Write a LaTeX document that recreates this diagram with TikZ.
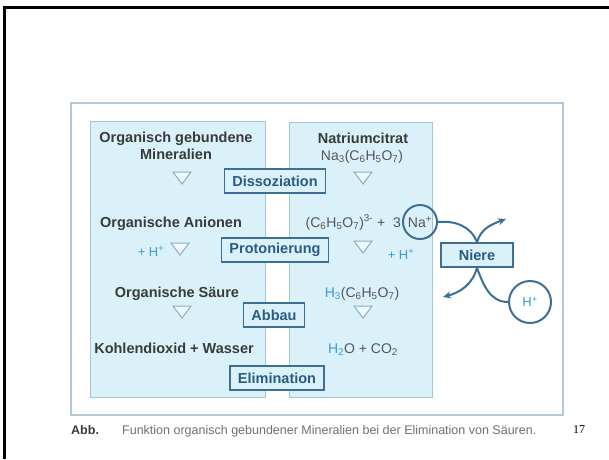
\documentclass[tikz,border=0pt]{standalone}
\usepackage{fontspec}
\setmainfont{Liberation Sans}
\newfontfamily\seitenfont{Liberation Serif}
\usetikzlibrary{arrows.meta}
\definecolor{panelfill}{HTML}{DAF1FA}
\definecolor{panelline}{HTML}{A6C6D4}
\definecolor{outerline}{HTML}{B2C8D2}
\definecolor{boxline}{HTML}{3D6F94}
\definecolor{boxtext}{HTML}{2B5B84}
\definecolor{maintext}{HTML}{3A3A3A}
\definecolor{formtext}{HTML}{555555}
\definecolor{htext}{HTML}{3C9BD2}
\definecolor{captext}{HTML}{707070}
\definecolor{trifill}{HTML}{EEF9FD}
\definecolor{triline}{HTML}{8FAEBE}
\begin{document}
\begin{tikzpicture}[x=1pt,y=-1pt,
  panel/.style={fill=panelfill,draw=panelline,line width=1pt},
  schritt/.style={draw=boxline,fill=panelfill,line width=1.3pt,text=boxtext,
    font=\fontsize{14.5}{16}\selectfont\bfseries,minimum height=24pt,inner xsep=8pt,inner ysep=0pt},
  stoff/.style={font=\fontsize{14.5}{16.5}\selectfont\bfseries,text=maintext,align=center,inner sep=0pt},
  formel/.style={font=\fontsize{14}{16}\selectfont,text=formtext,inner sep=0pt},
  proton/.style={font=\fontsize{13}{15}\selectfont,text=htext,inner sep=0pt},
  ion/.style={circle,draw=boxline,line width=2pt,inner sep=0pt},
  weg/.style={draw=boxline,line width=2pt},
  tri/.style={draw=triline,fill=trifill,line width=1pt}]
\useasboundingbox (0,0) rectangle (609,459);
\fill[white] (0,0) rectangle (609,459);
\draw[line width=3pt] (4.5,459)--(4.5,7)--(609,7);
\draw[draw=outerline,line width=1.3pt] (71,103) rectangle (563,415);
\draw[panel] (90,121) rectangle (265,397);
\draw[panel] (289,122) rectangle (432,397);
\foreach \p in {(182,178),(180,249),(182,312),(363,178),(363,247),(363,312)}
  \draw[tri] \p ++(-9,-6)--++(18,0)--++(-9,12)--cycle;
% linke Spalte
\node[stoff] (orgmin) at (176,146) {Organisch gebundene\\Mineralien};
\node[stoff,anchor=base] (organion) at (171,227) {Organische Anionen};
\node[proton,anchor=base] (hlinks) at (151,256) {+ H\textsuperscript{+}};
\node[stoff,anchor=base] (orgsaeure) at (177,297) {Organische Säure};
\node[stoff,anchor=base] (kohlen) at (174,353) {Kohlendioxid + Wasser};
% rechte Spalte
\node[stoff,anchor=base] (natcit) at (363,143) {Natriumcitrat};
\node[formel,anchor=base] (naform) at (362,160) {Na\textsubscript{3}(C\textsubscript{6}H\textsubscript{5}O\textsubscript{7})};
\node[formel,anchor=base east] (anion) at (401,227) {(C\textsubscript{6}H\textsubscript{5}O\textsubscript{7})\textsuperscript{3-} +\ \ 3};
\node[ion,minimum size=34pt,formel] (na) at (420,222) {Na\textsuperscript{+}};
\node[proton,anchor=base] (hrechts) at (401,259) {+ H\textsuperscript{+}};
\node[formel,anchor=base] (hsaeure) at (362,297) {\textcolor{htext}{H\textsubscript{3}}(C\textsubscript{6}H\textsubscript{5}O\textsubscript{7})};
\node[formel,anchor=base] (wasser) at (363,353) {\textcolor{htext}{H\textsubscript{2}}O + CO\textsubscript{2}};
% Schritte
\node[schritt] (dissoz) at (275,181) {Dissoziation};
\node[schritt] (proto) at (275,250) {Protonierung};
\node[schritt] (abbau) at (274,315) {Abbau};
\node[schritt] (elim) at (277,378) {Elimination};
\node[schritt,minimum width=72pt] (niere) at (477,255) {Niere};
\node[ion,minimum size=42pt,proton] (h) at (530,302) {H\textsuperscript{+}};
% Wege durch die Niere
\coordinate (naout) at (506,219);
\coordinate (hout) at (443,297);
\draw[weg] (na.east) to[out=5,in=110] (niere.north);
\draw[weg,-{Stealth[length=8pt,width=7pt]}] (niere.north) to[out=75,in=200] (naout);
\draw[weg] (h.west) to[out=180,in=-70] (niere.south);
\draw[weg,-{Stealth[length=8pt,width=7pt]}] (niere.south) to[out=-105,in=15] (hout);
% Bildunterschrift
\node[anchor=base west,inner sep=0pt,font=\fontsize{12.5}{14}\selectfont\bfseries,text=maintext] (abb) at (71,434) {Abb.};
\node[anchor=base west,inner sep=0pt,font=\fontsize{12.5}{14}\selectfont,text=captext] (caption) at (122,434) {Funktion organisch gebundener Mineralien bei der Elimination von Säuren.};
\node[anchor=base west,inner sep=0pt,font=\seitenfont\fontsize{12}{14}\selectfont] (seite) at (573,433) {17};
\end{tikzpicture}
\end{document}
